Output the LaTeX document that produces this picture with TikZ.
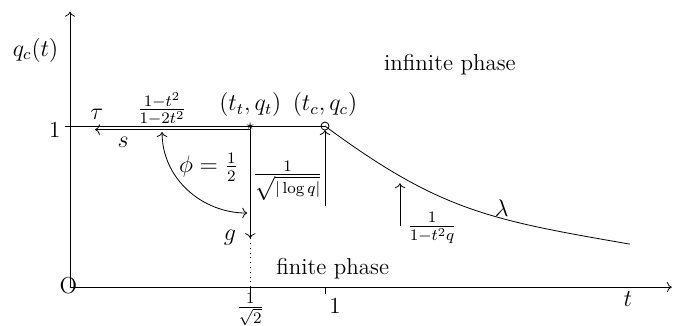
\documentclass[tikz,border=0pt]{standalone}
\usepackage{amsmath}
\usepackage{tikz}
\usetikzlibrary{arrows.meta,positioning,calc}

\begin{document}
\begin{tikzpicture}[x=4.48cm,y=2.83cm,font=\fontsize{11.5}{14}\selectfont]
\useasboundingbox (-0.2745,-0.236) rectangle (2.3647,1.7826);
% axes
\coordinate (O) at (0,0);
\draw[->] (O)--(2.36,0) coordinate (tend);
\draw[->] (O)--(0,1.71) coordinate (qend);
\node (orig) at (-0.006,0.012) {O};
\node (tlab) at (2.188,-0.075) {$t$};
\node (qlab) at (-0.135,1.472) {$q_c(t)$};
\node[left] (one) at (-0.01,0.975) {1};
\draw (0.707,0)--(0.707,-0.035);
\node[inner sep=1pt] (tsq) at (0.707,-0.138) {$\frac{1}{\sqrt{2}}$};
\draw (1,0)--(1,-0.04) node[below right,inner sep=2pt] (tone) {1};
% line q=1
\coordinate (tt) at (0.707,1);
\coordinate (tc) at (1,1);
\draw (-0.02,1)--(tc);
\node[inner sep=0pt] (star) at (tt) {\scriptsize$\star$};
\draw (tc) circle (2pt);
\node[above=1pt] (ttlab) at (tt) {$(t_t,q_t)$};
\node[above=1pt] (tclab) at (tc) {$(t_c,q_c)$};
% s towards tau
\draw[->] (0.707,0.978)--(0.098,0.978) coordinate (send);
\node (taulab) at (0.105,1.075) {$\tau$};
\node (slab) at (0.208,0.9) {$s$};
\node (ratio) at (0.361,1.105) {$\frac{1-t^2}{1-2t^2}$};
% g
\draw[->] (tt)--(0.707,0.304) coordinate (gend);
\draw[dotted] (gend)--(0.707,0);
\node (glab) at (0.627,0.31) {$g$};
\draw[<->] (0.361,0.963) to[out=-90,in=180] (0.695,0.46);
\node[left,inner sep=0.5pt] (philab) at (0.664,0.745) {$\phi=\frac12$};
% towards (t_c,q_c)
\draw[->] (1,0.503)--(1,0.975);
\node[right,inner sep=1pt] (sqlab) at (0.707,0.66) {$\frac{1}{\sqrt{|\log q|}}$};
\draw (tc) .. controls (1.45,0.4735) and (1.646,0.4177) .. (2.196,0.267);
\draw[->] (1.294,0.379)--(1.294,0.645);
\node (lamfrac) at (1.42,0.366) {$\frac{1}{1-t^2q}$};
\node (lamlab) at (1.693,0.49) {$\lambda$};
% phases
\node (inf) at (1.49,1.379) {infinite phase};
\node (fin) at (1.03,0.118) {finite phase};
\end{tikzpicture}
\end{document}
